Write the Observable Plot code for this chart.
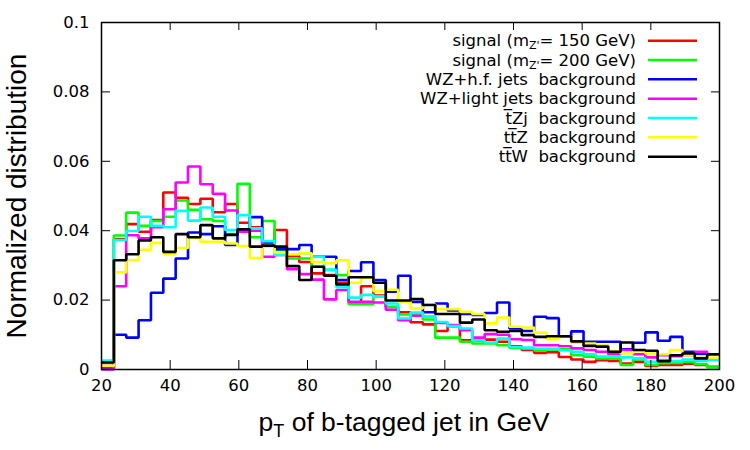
<!DOCTYPE html>
<html><head><meta charset="utf-8">
<script src="https://cdn.jsdelivr.net/npm/d3@7"></script>
<script src="https://cdn.jsdelivr.net/npm/@observablehq/plot@0.6"></script>
<style>body{margin:0;background:#fff} svg{display:block}</style>
</head><body><div id="chart"></div>
<script>
// Histogram bins: 50 bins from 20 to 200 GeV
const binLow = 20, binHigh = 200, binCount = 50;

const seriesKeys = ["sig150", "sig200", "wzhf", "wzlight", "tzj", "ttz", "ttw"];
const seriesColors = ["#ff0000", "#00ff00", "#0000ff", "#ff00ff", "#00ffff", "#ffff00", "#000000"];
// legend labels: segments, sub = subscript
const legendLabels = [
  [{t: "signal (m"}, {t: "Z'", sub: true}, {t: "= 150 GeV)"}],
  [{t: "signal (m"}, {t: "Z'", sub: true}, {t: "= 200 GeV)"}],
  [{t: "WZ+h.f. jets  background"}],
  [{t: "WZ+light jets background"}],
  [{t: "t\u0305Zj  background"}],
  [{t: "tt\u0305Z  background"}],
  [{t: "tt\u0305W  background"}]
];

const sig150 = [0.0010,0.0375,0.0419,0.0397,0.0431,0.0510,0.0495,0.0477,0.0492,0.0453,
  0.0477,0.0423,0.0410,0.0365,0.0402,0.0327,0.0310,0.0277,0.0272,0.0250,
  0.0193,0.0240,0.0213,0.0180,0.0165,0.0136,0.0130,0.0111,0.0125,0.0084,
  0.0084,0.0086,0.0080,0.0067,0.0056,0.0048,0.0050,0.0036,0.0029,0.0022,
  0.0027,0.0025,0.0017,0.0022,0.0010,0.0013,0.0013,0.0017,0.0013,0.0008];
const sig200 = [0.0020,0.0386,0.0452,0.0414,0.0428,0.0440,0.0487,0.0460,0.0433,0.0428,
  0.0390,0.0535,0.0381,0.0428,0.0344,0.0320,0.0320,0.0296,0.0287,0.0272,
  0.0188,0.0188,0.0210,0.0180,0.0159,0.0159,0.0144,0.0092,0.0092,0.0080,
  0.0075,0.0075,0.0070,0.0062,0.0060,0.0055,0.0058,0.0058,0.0041,0.0037,
  0.0032,0.0032,0.0013,0.0029,0.0013,0.0018,0.0019,0.0022,0.0015,0.0006];
const wzhf = [0.0005,0.0100,0.0092,0.0142,0.0221,0.0262,0.0320,0.0395,0.0390,0.0413,
  0.0359,0.0399,0.0439,0.0368,0.0347,0.0347,0.0359,0.0325,0.0325,0.0258,
  0.0284,0.0309,0.0258,0.0224,0.0270,0.0195,0.0165,0.0190,0.0170,0.0160,
  0.0157,0.0163,0.0193,0.0118,0.0111,0.0152,0.0148,0.0095,0.0110,0.0080,
  0.0080,0.0080,0.0058,0.0077,0.0107,0.0083,0.0094,0.0051,0.0044,0.0044];
const wzlight = [0.0000,0.0240,0.0387,0.0378,0.0410,0.0462,0.0539,0.0585,0.0534,0.0506,
  0.0458,0.0397,0.0400,0.0325,0.0330,0.0289,0.0275,0.0259,0.0202,0.0229,
  0.0195,0.0195,0.0193,0.0172,0.0142,0.0155,0.0152,0.0134,0.0128,0.0113,
  0.0092,0.0102,0.0100,0.0087,0.0085,0.0070,0.0070,0.0067,0.0061,0.0056,
  0.0051,0.0044,0.0056,0.0044,0.0035,0.0041,0.0038,0.0041,0.0051,0.0032];
const tzj = [0.0026,0.0373,0.0399,0.0440,0.0414,0.0410,0.0457,0.0429,0.0467,0.0440,
  0.0402,0.0445,0.0407,0.0370,0.0330,0.0332,0.0335,0.0325,0.0287,0.0237,
  0.0207,0.0215,0.0210,0.0190,0.0147,0.0164,0.0152,0.0137,0.0125,0.0118,
  0.0084,0.0078,0.0089,0.0065,0.0063,0.0060,0.0060,0.0055,0.0051,0.0044,
  0.0037,0.0037,0.0035,0.0032,0.0022,0.0027,0.0024,0.0029,0.0025,0.0027];
const ttz = [0.0010,0.0280,0.0315,0.0345,0.0365,0.0332,0.0350,0.0380,0.0368,0.0368,
  0.0363,0.0356,0.0321,0.0354,0.0337,0.0332,0.0335,0.0310,0.0306,0.0315,
  0.0250,0.0264,0.0226,0.0230,0.0195,0.0176,0.0188,0.0174,0.0174,0.0166,
  0.0160,0.0133,0.0150,0.0123,0.0121,0.0106,0.0087,0.0096,0.0077,0.0075,
  0.0070,0.0053,0.0046,0.0053,0.0046,0.0044,0.0056,0.0041,0.0038,0.0034];
const ttw = [0.0020,0.0315,0.0332,0.0372,0.0381,0.0339,0.0390,0.0381,0.0416,0.0378,
  0.0388,0.0404,0.0354,0.0357,0.0354,0.0298,0.0258,0.0296,0.0270,0.0245,
  0.0266,0.0266,0.0250,0.0199,0.0199,0.0203,0.0186,0.0160,0.0160,0.0135,
  0.0144,0.0113,0.0109,0.0111,0.0099,0.0094,0.0096,0.0096,0.0081,0.0068,
  0.0066,0.0051,0.0078,0.0056,0.0054,0.0024,0.0041,0.0046,0.0032,0.0044];

const xTicks = [20, 40, 60, 80, 100, 120, 140, 160, 180, 200];
const yTicks = [0, 0.02, 0.04, 0.06, 0.08, 0.1];
const yTickLabels = ["0", "0.02", "0.04", "0.06", "0.08", "0.1"];

const seriesValues = [sig150, sig200, wzhf, wzlight, tzj, ttz, ttw];
const binWidth = (binHigh - binLow) / binCount;
const rows = [];
seriesValues.forEach((vals, s) => {
  vals.forEach((v, i) => rows.push({series: seriesKeys[s], x: binLow + i * binWidth, y: v}));
  rows.push({series: seriesKeys[s], x: binHigh, y: vals[vals.length - 1]});
});

const W = 750, H = 450, mL = 101, mR = 31, mT = 22, mB = 81;
const fw = W - mL - mR, fh = H - mT - mB;

const chart = Plot.plot({
  width: W, height: H,
  marginLeft: mL, marginRight: mR, marginTop: mT, marginBottom: mB,
  style: {fontFamily: "DejaVu Sans", fontSize: "16.5px", color: "black", background: "white"},
  x: {domain: [binLow, binHigh]},
  y: {domain: [0, 0.1]},
  color: {domain: seriesKeys, range: seriesColors},
  marks: [
    Plot.lineY(rows, {x: "x", y: "y", z: "series", stroke: "series", curve: "step-after", strokeWidth: 2.6, strokeLinejoin: "miter", strokeLinecap: "butt"}),
    Plot.tickX(xTicks, {x: d => d, insetTop: fh - 9, stroke: "black", strokeWidth: 1}),
    Plot.tickX(xTicks, {x: d => d, insetBottom: fh - 8, stroke: "black", strokeWidth: 1}),
    Plot.tickY(yTicks, {y: d => d, insetRight: fw - 9, stroke: "black", strokeWidth: 1}),
    Plot.tickY(yTicks, {y: d => d, insetLeft: fw - 8, stroke: "black", strokeWidth: 1}),
    Plot.axisX({ticks: xTicks, tickSize: 0, tickPadding: 10, label: null}),
    Plot.axisY({ticks: yTicks, tickSize: 0, tickPadding: 12, label: null, tickFormat: (d, i) => yTickLabels[yTicks.indexOf(d)]}),
    Plot.frame({stroke: "black", strokeWidth: 1.5})
  ]
});
document.getElementById("chart").appendChild(chart);

const svg = d3.select(chart);
// y axis label
svg.append("text")
  .attr("transform", "translate(26,196) rotate(-90)")
  .attr("text-anchor", "middle")
  .attr("font-family", "Liberation Sans")
  .attr("font-size", 28)
  .attr("fill", "black")
  .text("Normalized distribution");
// x axis label with subscript
const xl = svg.append("text")
  .attr("x", 404).attr("y", 431)
  .attr("text-anchor", "middle")
  .attr("font-family", "Liberation Sans")
  .attr("font-size", 26.5)
  .attr("fill", "black");
xl.append("tspan").text("p");
xl.append("tspan").attr("font-size", 18).attr("dy", 6).text("T");
xl.append("tspan").attr("dy", -6).text(" of b-tagged jet in GeV");

// legend
const lg = svg.append("g").attr("font-family", "DejaVu Sans").attr("font-size", 16.5).attr("fill", "black");
legendLabels.forEach((parts, i) => {
  const cy = 40.7 + i * 19.33;
  const t = lg.append("text").attr("x", 636).attr("y", cy + 5.5).attr("text-anchor", "end").attr("xml:space", "preserve").style("white-space", "pre");
  parts.forEach((p, j) => {
    if (p.sub) {
      t.append("tspan").attr("font-size", 11).attr("dy", 3).text(p.t);
    } else {
      const ts = t.append("tspan").text(p.t);
      if (j > 0 && parts[j - 1].sub) ts.attr("dy", -3);
    }
  });
  lg.append("line").attr("x1", 648).attr("x2", 697).attr("y1", cy).attr("y2", cy)
    .attr("stroke", seriesColors[i]).attr("stroke-width", 2.5);
});
</script>
</body></html>
